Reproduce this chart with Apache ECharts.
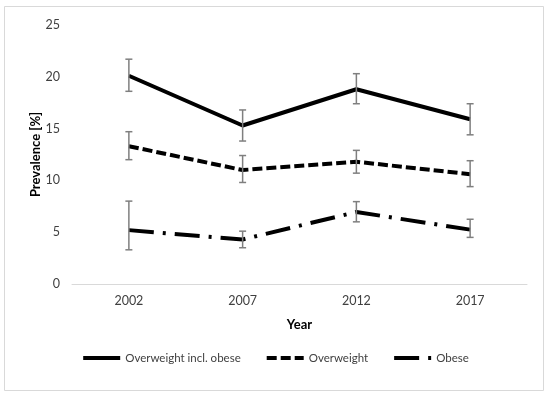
<!DOCTYPE html>
<html><head><meta charset="utf-8">
<script src="https://cdn.jsdelivr.net/npm/echarts@6/dist/echarts.min.js"></script>
<style>html,body{margin:0;padding:0;background:#fff}#c{width:550px;height:395px}</style>
</head><body><div id="c"></div>
<script>
const years = ['2002', '2007', '2012', '2017'];
const seriesNames = ['Overweight incl. obese', 'Overweight', 'Obese'];
const owIncl = [20.1, 15.3, 18.8, 15.9];
const owInclLow = [18.6, 13.8, 17.4, 14.4];
const owInclHigh = [21.7, 16.8, 20.3, 17.4];
const ow = [13.3, 11.0, 11.8, 10.6];
const owLow = [12.0, 9.8, 10.7, 9.4];
const owHigh = [14.7, 12.4, 12.9, 11.9];
const ob = [5.2, 4.3, 6.95, 5.25];
const obLow = [3.3, 3.5, 6.0, 4.5];
const obHigh = [8.0, 5.1, 7.95, 6.25];
const yTicks = [0, 5, 10, 15, 20, 25];

const font = "Lato, 'Open Sans', sans-serif";
const chart = echarts.init(document.getElementById('c'), null, {renderer: 'canvas'});

function errSeries(low, high) {
  return {
    type: 'custom', silent: true, z: 5,
    data: years.map((y, i) => [i, low[i], high[i]]),
    renderItem: function (params, api) {
      const p1 = api.coord([api.value(0), api.value(1)]);
      const p2 = api.coord([api.value(0), api.value(2)]);
      const w = 3.5;
      const st = {stroke: '#7f7f7f', lineWidth: 1.5};
      return {type: 'group', children: [
        {type: 'line', shape: {x1: p1[0], y1: p1[1], x2: p2[0], y2: p2[1]}, style: st},
        {type: 'line', shape: {x1: p1[0]-w, y1: p1[1], x2: p1[0]+w, y2: p1[1]}, style: st},
        {type: 'line', shape: {x1: p2[0]-w, y1: p2[1], x2: p2[0]+w, y2: p2[1]}, style: st}
      ]};
    }
  };
}

chart.setOption({
  animation: false,
  backgroundColor: '#fff',
  graphic: [{type: 'rect', shape: {x: 4.5, y: 6.5, width: 539, height: 384}, style: {fill: 'none', stroke: '#d9d9d9', lineWidth: 1}, z: -1}],
  grid: {left: 72, right: 23, top: 25, bottom: 111},
  legend: {
    bottom: 26, left: 'center', itemGap: 24, itemWidth: 37, itemHeight: 10,
    data: seriesNames,
    itemStyle: {opacity: 0},
    lineStyle: {width: 4},
    textStyle: {fontFamily: font, fontSize: 11.5, color: '#404040'}
  },
  xAxis: {
    type: 'category', data: years, boundaryGap: true,
    name: 'Year', nameLocation: 'middle', nameGap: 34,
    nameTextStyle: {fontFamily: font, fontSize: 13, fontWeight: 'bold', color: '#000'},
    axisLine: {lineStyle: {color: '#d9d9d9', width: 1}},
    axisTick: {show: false},
    axisLabel: {fontFamily: font, fontSize: 12.5, color: '#404040', margin: 10}
  },
  yAxis: {
    type: 'value', min: 0, max: 25, interval: 5,
    name: 'Prevalence [%]', nameLocation: 'middle', nameGap: 30, nameMoveOverlap: false,
    nameTextStyle: {fontFamily: font, fontSize: 13, fontWeight: 'bold', color: '#000'},
    axisLine: {show: false}, axisTick: {show: false}, splitLine: {show: false},
    axisLabel: {fontFamily: font, fontSize: 12.5, color: '#404040', margin: 12,
      formatter: v => yTicks.includes(v) ? String(v) : ''}
  },
  series: [
    {name: seriesNames[0], type: 'line', data: owIncl, symbol: 'none', z: 3,
     lineStyle: {color: '#000', width: 4, type: 'solid'}, itemStyle: {color: '#000'}},
    {name: seriesNames[1], type: 'line', data: ow, symbol: 'none', z: 3,
     lineStyle: {color: '#000', width: 4, type: [10, 4]}, itemStyle: {color: '#000'}},
    {name: seriesNames[2], type: 'line', data: ob, symbol: 'none', z: 3,
     lineStyle: {color: '#000', width: 4, type: [25, 9, 3, 9]}, itemStyle: {color: '#000'}},
    errSeries(owInclLow, owInclHigh),
    errSeries(owLow, owHigh),
    errSeries(obLow, obHigh)
  ]
});
</script></body></html>
